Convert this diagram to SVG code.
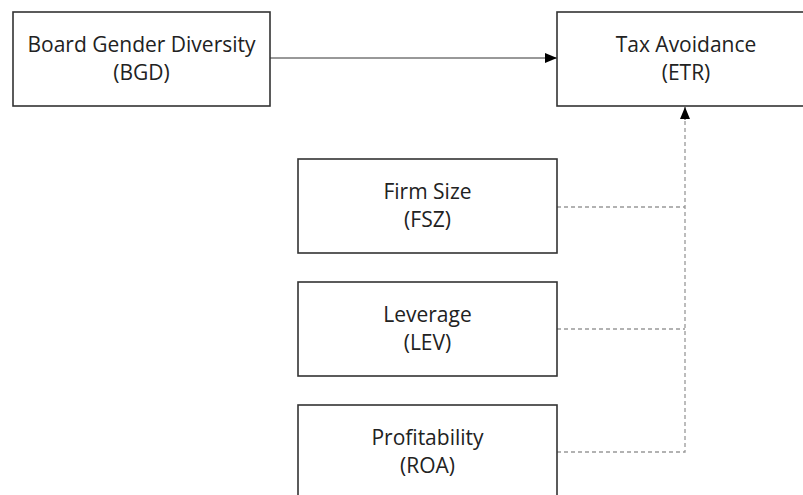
<svg xmlns="http://www.w3.org/2000/svg" width="803" height="495" viewBox="0 0 803 495">
<defs>
<style>
.box{fill:#fff;stroke:#333;stroke-width:1.6}
.t{font-family:"Open Sans","Liberation Sans",sans-serif;font-size:21px;fill:#222;text-anchor:middle}
.solid{stroke:#333;stroke-width:1;fill:none}
.dash{stroke:#999;stroke-width:1.3;fill:none;stroke-dasharray:4 3}
</style>
<marker id="ah" markerWidth="12" markerHeight="10" refX="12" refY="5" orient="auto" markerUnits="userSpaceOnUse">
<path d="M0,0 L12,5 L0,10 Z" fill="#000"/>
</marker>
</defs>
<rect width="803" height="495" fill="#fff"/>
<g id="connectors">
<line class="solid" x1="270" y1="58" x2="557" y2="58" marker-end="url(#ah)"/>
<line class="dash" x1="557" y1="207" x2="685" y2="207"/>
<line class="dash" x1="557" y1="329" x2="685" y2="329"/>
<polyline class="dash" points="557,452 685,452 685,120"/>
<line class="solid" x1="685" y1="120" x2="685" y2="107" marker-end="url(#ah)" stroke="#999"/>
</g>
<g id="bgd">
<rect class="box" x="13" y="12" width="257" height="94"/>
<text class="t" x="141.5" y="52">Board Gender Diversity</text>
<text class="t" x="141.5" y="80">(BGD)</text>
</g>
<g id="etr">
<rect class="box" x="557" y="12" width="258" height="94"/>
<text class="t" x="686" y="52">Tax Avoidance</text>
<text class="t" x="686" y="80">(ETR)</text>
</g>
<g id="fsz">
<rect class="box" x="298" y="159" width="259" height="94"/>
<text class="t" x="427.5" y="199">Firm Size</text>
<text class="t" x="427.5" y="227">(FSZ)</text>
</g>
<g id="lev">
<rect class="box" x="298" y="282" width="259" height="94"/>
<text class="t" x="427.5" y="322">Leverage</text>
<text class="t" x="427.5" y="350">(LEV)</text>
</g>
<g id="roa">
<rect class="box" x="298" y="405" width="259" height="100"/>
<text class="t" x="427.5" y="445">Profitability</text>
<text class="t" x="427.5" y="473">(ROA)</text>
</g>
</svg>
